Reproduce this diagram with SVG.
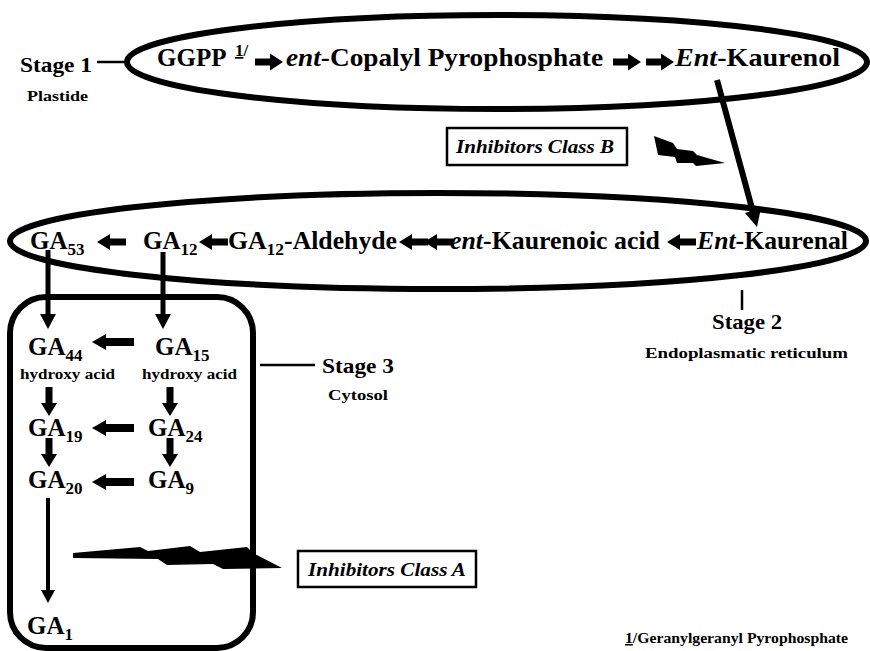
<svg xmlns="http://www.w3.org/2000/svg" width="870" height="651" viewBox="0 0 870 651">
<style>
text{font-family:"Liberation Serif","Times New Roman",serif;font-weight:bold;fill:#000}
.m{font-size:25px}
.s{font-size:22px}
.l{font-size:15px}
.ib{font-size:19px;font-style:italic}
.i{font-style:italic}
.sub{font-size:17px}
.sup{font-size:17px}
.ring{fill:none;stroke:#000;stroke-width:6}
.ln{stroke:#000;fill:none;stroke-width:2.5}
.v{stroke:#000;fill:none;stroke-width:5}
.ba{fill:#000}
.box{fill:#fff;stroke:#000;stroke-width:2.5}
</style>
<defs>
<path id="ar" d="M0,-3.5H15V-8.5L28,0L15,8.5V3.5H0Z"/>
<path id="al" d="M0,0L13,-8V-3.5H29V3.5H13V8Z"/>
<path id="alw" d="M0,0L14,-8V-4H42V4H14V8Z"/>
<path id="ad" d="M-3.5,0H3.5V16H8L0,29L-8,16H-3.5Z"/>
</defs>
<rect width="870" height="651" fill="#fff"/>

<g id="compartments">
<ellipse class="ring" cx="497" cy="62" rx="370" ry="47"/>
<ellipse class="ring" cx="438" cy="241" rx="428" ry="48"/>
<rect class="ring" x="10" y="297" width="243" height="351" rx="36" ry="36"/>
</g>

<g id="stage1">
<line class="ln" x1="97" y1="62" x2="128" y2="62"/>
<text class="s" x="20" y="72" textLength="72" lengthAdjust="spacingAndGlyphs">Stage 1</text>
<text class="l" x="27" y="101" textLength="61" lengthAdjust="spacingAndGlyphs">Plastide</text>
</g>
<g id="stage2">
<line class="ln" x1="742" y1="290" x2="742" y2="310"/>
<text class="s" x="712" y="329" textLength="70" lengthAdjust="spacingAndGlyphs">Stage 2</text>
<text class="l" x="645" y="358" textLength="203" lengthAdjust="spacingAndGlyphs">Endoplasmatic reticulum</text>
</g>
<g id="stage3">
<line class="ln" x1="260" y1="365" x2="315" y2="365"/>
<text class="s" x="322" y="373" textLength="72" lengthAdjust="spacingAndGlyphs">Stage 3</text>
<text class="l" x="328" y="400" textLength="60" lengthAdjust="spacingAndGlyphs">Cytosol</text>
</g>

<g id="ggpp"><text class="m" x="157" y="66">GGPP</text><text class="sup" x="235" y="56"><tspan text-decoration="underline">1</tspan>/</text></g>
<g id="copalyl"><text class="m" x="286" y="66" textLength="317" lengthAdjust="spacingAndGlyphs"><tspan class="i">ent</tspan>-Copalyl Pyrophosphate</text></g>
<g id="kaurenol"><text class="m" x="675" y="66" textLength="165" lengthAdjust="spacingAndGlyphs"><tspan class="i">Ent</tspan>-Kaurenol</text></g>

<g id="kaurenal"><text class="m" x="697" y="249" textLength="151" lengthAdjust="spacingAndGlyphs"><tspan class="i">Ent</tspan>-Kaurenal</text></g>
<g id="kaurenoic"><text class="m" x="450" y="249" textLength="210" lengthAdjust="spacingAndGlyphs"><tspan class="i">ent</tspan>-Kaurenoic acid</text></g>
<g id="ga12ald"><text class="m" x="228" y="249" textLength="169" lengthAdjust="spacingAndGlyphs">GA<tspan class="sub" dy="6">12</tspan><tspan dy="-6">-Aldehyde</tspan></text></g>
<g id="ga12"><text class="m" x="143" y="249">GA<tspan class="sub" dy="6">12</tspan></text></g>
<g id="ga53"><text class="m" x="30" y="249">GA<tspan class="sub" dy="6">53</tspan></text></g>

<g id="ga44"><text class="m" x="28" y="355">GA<tspan class="sub" dy="6">44</tspan></text><text class="l" x="20" y="379" textLength="95" lengthAdjust="spacingAndGlyphs">hydroxy acid</text></g>
<g id="ga15"><text class="m" x="155" y="355">GA<tspan class="sub" dy="6">15</tspan></text><text class="l" x="142" y="379" textLength="95" lengthAdjust="spacingAndGlyphs">hydroxy acid</text></g>
<g id="ga19"><text class="m" x="28" y="436">GA<tspan class="sub" dy="6">19</tspan></text></g>
<g id="ga24"><text class="m" x="148" y="436">GA<tspan class="sub" dy="6">24</tspan></text></g>
<g id="ga20"><text class="m" x="28" y="488">GA<tspan class="sub" dy="6">20</tspan></text></g>
<g id="ga9"><text class="m" x="148" y="488">GA<tspan class="sub" dy="6">9</tspan></text></g>
<g id="ga1"><text class="m" x="27" y="634">GA<tspan class="sub" dy="6">1</tspan></text></g>

<g id="inhibB">
<rect class="box" x="447" y="128" width="180" height="37"/>
<text class="ib" x="456" y="153" textLength="158" lengthAdjust="spacingAndGlyphs">Inhibitors Class B</text>
<polygon class="ba" points="654,136 673,143 677,149 693,151 697,155 725,163 696,166 693,163 677,163 675,157 658,155"/>
</g>
<g id="inhibA">
<rect class="box" x="298" y="551" width="178" height="36"/>
<text class="ib" x="308" y="576" textLength="158" lengthAdjust="spacingAndGlyphs">Inhibitors Class A</text>
<polygon class="ba" points="73,553 140,547 148,551 190,546 200,552 247,547 253,553 282,568 223,569 213,564 167,565 158,559 73,558"/>
</g>

<g id="footnote"><text class="l" x="625" y="643" textLength="223" lengthAdjust="spacingAndGlyphs"><tspan text-decoration="underline">1</tspan>/Geranylgeranyl Pyrophosphate</text></g>

<g id="connectors">
<use href="#ar" x="255" y="62"/>
<use href="#ar" x="613" y="62"/>
<use href="#ar" x="646" y="62"/>
<line x1="717" y1="80" x2="753" y2="212" stroke="#000" stroke-width="6"/>
<polygon class="ba" points="761,208 745,213 757,227"/>
<use href="#al" x="97" y="242"/>
<use href="#al" x="199" y="242"/>
<use href="#al" x="399" y="242"/>
<use href="#al" x="424" y="242"/>
<use href="#al" x="667" y="242"/>
<line class="v" x1="48" y1="250" x2="48" y2="316"/>
<polygon class="ba" points="40,314 56,314 48,329"/>
<line class="v" x1="163" y1="252" x2="163" y2="316"/>
<polygon class="ba" points="155,314 171,314 163,329"/>
<use href="#alw" x="92" y="342"/>
<use href="#alw" x="92" y="428"/>
<use href="#alw" x="92" y="482"/>
<use href="#ad" x="49" y="387"/>
<use href="#ad" x="170" y="387"/>
<use href="#ad" x="49" y="438"/>
<use href="#ad" x="170" y="438"/>
<line x1="48" y1="498" x2="48" y2="592" stroke="#000" stroke-width="4"/>
<polygon class="ba" points="41,590 55,590 48,603"/>
</g>
</svg>
